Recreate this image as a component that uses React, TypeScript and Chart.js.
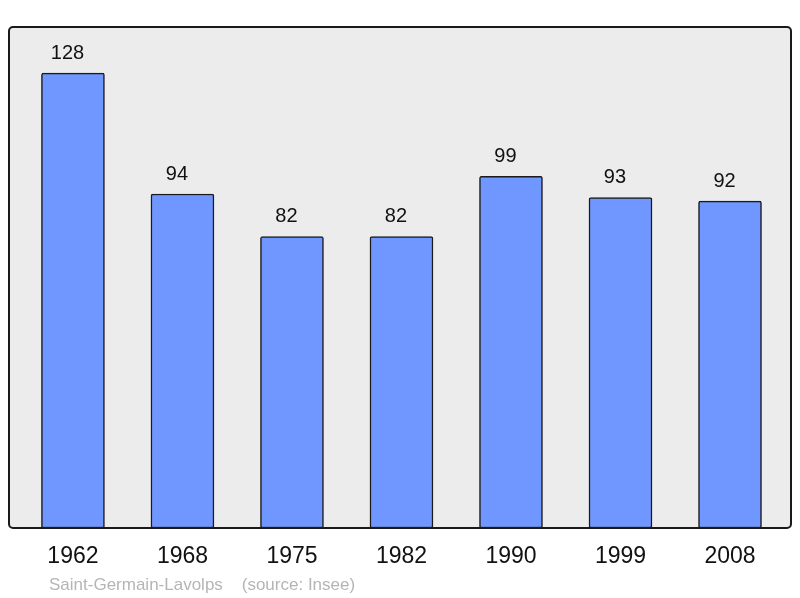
import React, { useEffect, useRef } from "react";
import { Chart, registerables } from "chart.js";

Chart.register(...registerables);

const years = ["1962", "1968", "1975", "1982", "1990", "1999", "2008"];
const population = [128, 94, 82, 82, 99, 93, 92];
const footerText = "Saint-Germain-Lavolps    (source: Insee)";

const FONT = "'Liberation Sans', Arial, sans-serif";

function boxPath(ctx: CanvasRenderingContext2D, left: number, top: number, right: number, bottom: number, r: number) {
  ctx.beginPath();
  ctx.moveTo(left + r, top);
  ctx.lineTo(right - r, top);
  ctx.arcTo(right, top, right, top + r, r);
  ctx.lineTo(right, bottom - r);
  ctx.arcTo(right, bottom, right - r, bottom, r);
  ctx.lineTo(left + r, bottom);
  ctx.arcTo(left, bottom, left, bottom - r, r);
  ctx.lineTo(left, top + r);
  ctx.arcTo(left, top, left + r, top, r);
  ctx.closePath();
}

const boxPlugin = {
  id: "boxPlugin",
  beforeDatasetsDraw(chart: any) {
    const { ctx, chartArea } = chart;
    const { left, top, right, bottom } = chartArea;
    ctx.save();
    boxPath(ctx, left, top, right, bottom, 4);
    ctx.fillStyle = "#ececec";
    ctx.fill();
    ctx.restore();
  },
  afterDatasetsDraw(chart: any) {
    const { ctx, chartArea } = chart;
    const { left, top, right, bottom } = chartArea;
    ctx.save();
    boxPath(ctx, left, top, right, bottom, 4);
    ctx.lineWidth = 2;
    ctx.strokeStyle = "#1a1a1a";
    ctx.stroke();

    // value labels
    const meta = chart.getDatasetMeta(0);
    ctx.fillStyle = "#111";
    ctx.font = `20px ${FONT}`;
    ctx.textAlign = "center";
    ctx.textBaseline = "alphabetic";
    meta.data.forEach((el: any, i: number) => {
      ctx.fillText(String(population[i]), el.x - 5.5, el.y - 14.5);
    });

    // footer
    ctx.fillStyle = "#b5b5b5";
    ctx.font = `17px ${FONT}`;
    ctx.textAlign = "left";
    ctx.fillText(footerText, 49, 590);
    ctx.restore();
  },
};

export default function App() {
  const ref = useRef<HTMLCanvasElement>(null);
  useEffect(() => {
    document.body.style.margin = "0";
    const chart = new Chart(ref.current!, {
      type: "bar",
      data: {
        datasets: [
          {
            data: population.map((v, i) => ({ x: i, y: v })),
            backgroundColor: "#7096ff",
            borderColor: "#1a1a1a",
            borderWidth: 1.5,
            borderRadius: 2,
            borderSkipped: false,
            barThickness: 63,
          },
        ],
      },
      options: {
        animation: false,
        responsive: false,
        maintainAspectRatio: false,
        layout: { padding: { left: 9, right: 9, top: 27, bottom: 0 } },
        plugins: {
          legend: { display: false },
          tooltip: { enabled: false },
        },
        scales: {
          x: {
            type: "linear",
            offset: false,
            min: -0.584,
            max: 6.557,
            grid: { display: false, drawTicks: false },
            border: { display: false },
            afterBuildTicks: (scale: any) => {
              scale.ticks = years.map((_, i) => ({ value: i }));
            },
            afterFit: (scale: any) => {
              scale.height = 70;
            },
            ticks: {
              autoSkip: false,
              maxRotation: 0,
              padding: 15,
              color: "#111",
              font: { size: 23, family: FONT },
              callback: (v: any) => years[v as number] ?? "",
            },
          },
          y: {
            display: false,
            min: 0,
            max: 141,
          },
        },
      },
      plugins: [boxPlugin],
    });
    return () => chart.destroy();
  }, []);
  return (
    <div style={{ position: "absolute", left: 0, top: 0, width: 800, height: 598 }}>
      <canvas ref={ref} width={800} height={598} style={{ width: 800, height: 598 }} />
    </div>
  );
}
